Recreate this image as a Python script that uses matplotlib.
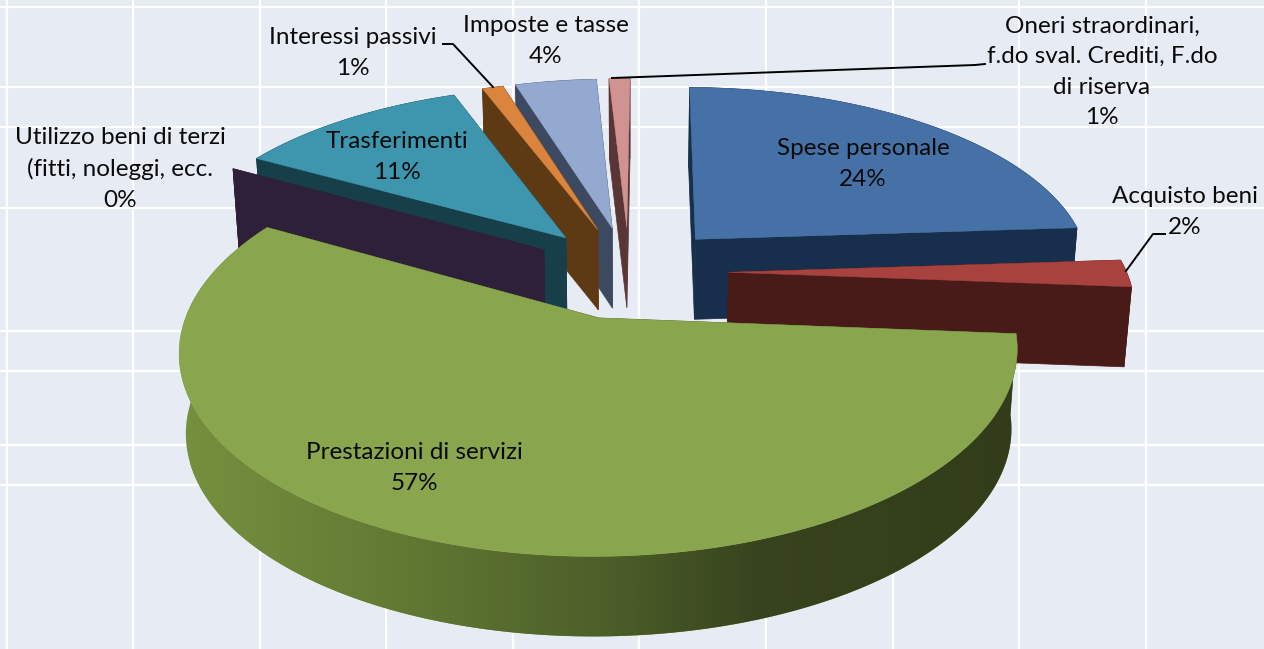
import numpy as np
import matplotlib
matplotlib.use("Agg")
import matplotlib.pyplot as plt
from matplotlib.colors import LinearSegmentedColormap
from matplotlib.patches import Polygon

# chart data
names = ["Spese personale", "Acquisto beni", "Prestazioni di servizi",
         "Utilizzo beni di terzi\n(fitti, noleggi, ecc.", "Trasferimenti",
         "Interessi passivi", "Imposte e tasse",
         "Oneri straordinari,\nf.do sval. Crediti, F.do\ndi riserva"]
values = [23.8, 2.3, 56.9, 0, 11.1, 1, 3.9, 1]

top_colors = ["#4571A6", "#A8423F", "#89A54E", "#71588F", "#3D96AE", "#DB843D", "#93A9CF", "#D19392"]
wall_colors = ["#172E4C", "#481B19", "#4C5F29", "#2E2039", "#173F4A", "#5E3A14", "#3C4960", "#5A3535"]

# where labels go, in image pixels
label_xy = [(863, 164), (1185, 212), (414, 468), (120, 169), (397, 157), (353, 53), (546, 41), (1102, 72)]

# back to front
draw_order = [7, 6, 5, 4, 3, 0, 1, 2]

# geometry of the 3d view
cx, cy = 629, 272
R = 398
A = 185
tilt = 0.1565
explode = 0.25
depth = 80
shrink = 0.985
start_angle = 0.5

bg = "#E7ECF4"
grid_x = [6.5, 133, 259.5, 386, 513, 639, 766, 892.5, 1019, 1146]
grid_y = [7, 87, 127, 208, 331, 371, 445, 485]


def project(x, y):
    d = 1 + tilt * y
    return cx + R * x / d, cy - A * y / d


def lower(sx, sy):
    return cx + (sx - cx) * shrink, sy + depth


green_cmap = LinearSegmentedColormap.from_list(
    "wall", [(0, "#758F3E"), (0.25, "#627933"), (0.5, "#4C5F29"), (0.68, "#38441E"), (1, "#323C1A")])

fig = plt.figure(figsize=(12.64, 6.49), dpi=100, facecolor=bg)
ax = fig.add_axes([0, 0, 1, 1])
ax.axis("off")

for gx in grid_x:
    ax.axvline(gx, color="white", lw=1.6, zorder=1)
for gy in grid_y:
    ax.axhline(gy, color="white", lw=1.6, zorder=1)

shares = np.array(values) / sum(values) * 360
ends = start_angle + np.cumsum(shares)
starts = ends - shares

z = 2
for i in draw_order:
    a0, a1 = starts[i], ends[i]
    mid = np.radians((a0 + a1) / 2)
    ox, oy = explode * np.sin(mid), explode * np.cos(mid)
    t = np.radians(np.linspace(a0, a1, max(int(a1 - a0) * 2, 2)))
    arc_x, arc_y = project(ox + np.sin(t), oy + np.cos(t))
    vx, vy = project(ox, oy)
    bx, by = lower(arc_x, arc_y)
    bvx, bvy = lower(vx, vy)

    # radial side walls
    ax.fill([vx, arc_x[0], bx[0], bvx], [vy, arc_y[0], by[0], bvy],
            color=wall_colors[i], lw=0.5, zorder=z)
    ax.fill([vx, arc_x[-1], bx[-1], bvx], [vy, arc_y[-1], by[-1], bvy],
            color=wall_colors[i], lw=0.5, zorder=z)

    # outer wall, the big slice gets a left to right gradient
    wall_xy = np.c_[np.r_[arc_x, bx[::-1]], np.r_[arc_y, by[::-1]]]
    if i == 2:
        grad = np.linspace(0, 1, 400).reshape(1, -1)
        im = ax.imshow(grad, cmap=green_cmap, extent=(190, 1020, 700, 0), aspect="auto", zorder=z)
        im.set_clip_path(Polygon(wall_xy, transform=ax.transData))
        # the picture does not reach the far left edge of the wall
        ax.fill(wall_xy[:, 0], wall_xy[:, 1], color="#758F3E", lw=0, zorder=z - 0.1)
    else:
        ax.fill(wall_xy[:, 0], wall_xy[:, 1], color=wall_colors[i], lw=0.5, zorder=z)

    # top face
    if values[i] > 0:
        ax.fill(np.r_[vx, arc_x], np.r_[vy, arc_y], color=top_colors[i], lw=0.3, zorder=z + 0.5)
    z += 1

for name, v, (lx, ly) in zip(names, values, label_xy):
    ax.text(lx, ly, "%s\n%d%%" % (name, round(v)), ha="center", va="center", family="Lato",
            fontsize=17.5, color="#0A0A0A", linespacing=1.56, zorder=30)

# leader lines
ax.plot([443, 453, 493], [44, 44, 87], color="black", lw=1.4, zorder=31)
ax.plot([985, 975, 612], [64, 65, 78], color="black", lw=1.4, zorder=31)
ax.plot([1165, 1153, 1126], [234, 234, 271], color="black", lw=1.4, zorder=31)

ax.set_xlim(0, 1264)
ax.set_ylim(649, 0)

fig.savefig("out.png", dpi=100, facecolor=bg)
